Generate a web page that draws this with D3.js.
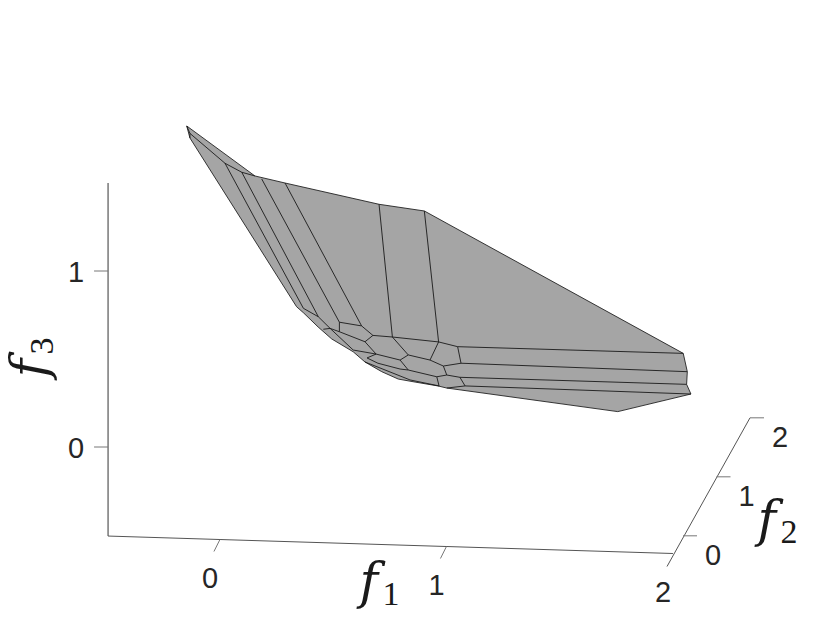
<!DOCTYPE html>
<html><head><meta charset="utf-8">
<style>html,body{margin:0;padding:0;background:#fff}svg{display:block}</style>
<script src="https://cdn.jsdelivr.net/npm/d3@7/dist/d3.min.js"></script>
</head><body><script>
// Axis tick values
const f1Ticks=[0,1,2], f2Ticks=[0,1,2], f3Ticks=[0,1];
const f1Range=[-0.494,2], f2Range=[-0.3,2], f3Range=[-0.506,1.5];
// Surface, in projected (f1,f3) units on the f2=0 plane
const outlineF1=[-0.191,0.110,0.243,0.658,0.858,2.001,2.019,2.016,2.035,1.712,0.957,0.918,0.817,0.743,0.670,0.596,0.544,0.449,0.389,0.324,0.294,-0.177];
const outlineF3=[1.824,1.540,1.500,1.379,1.341,0.532,0.428,0.356,0.301,0.201,0.335,0.347,0.369,0.386,0.428,0.483,0.541,0.614,0.682,0.763,0.797,1.756];
const meshLines=[
 [[-0.191,1.824],[-0.177,1.782],[-0.022,1.612],[0.052,1.561],[0.110,1.540]],
 [[-0.177,1.782],[-0.177,1.756]],
 [[-0.022,1.612],[0.324,0.788]],
 [[0.052,1.561],[0.390,0.740]],
 [[0.140,1.523],[0.483,0.709]],
 [[0.243,1.500],[0.581,0.688]],
 [[0.658,1.379],[0.717,0.625]],
 [[0.858,1.341],[0.921,0.597]],
 [[0.324,0.788],[0.390,0.740],[0.442,0.674],[0.412,0.669]],
 [[0.442,0.674],[0.483,0.655],[0.596,0.598],[0.631,0.634],[0.717,0.625],[0.921,0.597],[1.005,0.570],[2.001,0.532]],
 [[0.483,0.709],[0.581,0.688],[0.631,0.634]],
 [[0.483,0.709],[0.483,0.655]],
 [[0.442,0.674],[0.544,0.551],[0.645,0.528],[0.596,0.598]],
 [[0.645,0.528],[0.751,0.494],[0.787,0.523],[0.717,0.625]],
 [[0.787,0.523],[0.883,0.494],[0.921,0.597]],
 [[0.883,0.494],[0.942,0.460],[1.020,0.476],[2.019,0.428]],
 [[1.005,0.570],[1.020,0.476]],
 [[0.942,0.460],[0.957,0.409],[0.913,0.399],[0.787,0.4375],[0.751,0.494]],
 [[0.957,0.409],[1.015,0.396],[2.016,0.356]],
 [[1.015,0.396],[1.038,0.347]],
 [[0.913,0.399],[0.923,0.347]],
 [[0.957,0.335],[1.038,0.347],[2.035,0.301]],
 [[0.645,0.528],[0.605,0.506]],
 [[0.605,0.506],[0.653,0.476],[0.751,0.443],[0.787,0.4375]],
 [[0.596,0.483],[0.795,0.381],[0.923,0.347]]
];
const W=830,H=623;
const f1X=d3.scaleLinear().domain([0,1]).range([230,456.5]);
const f1Y=d3.scaleLinear().domain([0,1]).range([0,7]);
const f2X=d3.scaleLinear().domain([0,1]).range([0,33.5]);
const f2Y=d3.scaleLinear().domain([0,1]).range([0,-59]);
const f3Y=d3.scaleLinear().domain([0,1]).range([447,271]);
const project=(a,b,c)=>[f1X(a)+f2X(b), f3Y(c)+f1Y(a)-f1Y(f1Range[0])+f2Y(b)-f2Y(f2Range[0])];
const planeX=f1X, planeY=f3Y;
const svg=d3.select("body").append("svg").attr("width",W).attr("height",H).attr("viewBox",`0 0 ${W} ${H}`);
const line=d3.line().x(d=>planeX(d[0])).y(d=>planeY(d[1]));
const textCol="#262626";
const [u0,v0,w0]=[f1Range[0],f2Range[0],f3Range[0]];

// surface
svg.append("path").datum(d3.zip(outlineF1,outlineF3)).attr("d",d=>line(d)+"Z")
 .attr("fill","#a5a5a5").attr("stroke","#222").attr("stroke-width",0.9).attr("stroke-linejoin","round");
svg.append("g").selectAll("path").data(meshLines).join("path").attr("d",line)
 .attr("fill","none").attr("stroke","#1a1a1a").attr("stroke-width",0.9);

// axes
const ax=svg.append("g").attr("fill","none");
const seg=(p,q,col)=>ax.append("line").attr("x1",p[0]).attr("y1",p[1]).attr("x2",q[0]).attr("y2",q[1]).attr("stroke",col).attr("stroke-width",1);
seg(project(u0,v0,w0),project(u0,v0,f3Range[1]),"#333");
seg(project(u0,v0,w0),project(f1Range[1],v0,w0),"#555");
seg([667,566.5],project(f1Range[1],f2Range[1],w0),"#555");
const labels=svg.append("g").attr("font-family","'Liberation Sans',Arial,sans-serif").attr("font-size",29).attr("fill",textCol).attr("text-anchor","middle");
f3Ticks.forEach(t=>{const p=project(u0,v0,t);seg(p,[p[0]-14,p[1]],"#777");
 labels.append("text").attr("x",p[0]-32).attr("y",p[1]+11).text(t);});
f1Ticks.forEach(t=>{const p=project(t,v0,w0);
 if(t<2)seg(p,[p[0]-6,p[1]+12],"#777");
 labels.append("text").attr("x",p[0]-10).attr("y",p[1]+48).text(t);});
f2Ticks.forEach(t=>{const p=project(f1Range[1],t,w0);seg(p,[p[0]+14,p[1]],"#777");
 labels.append("text").attr("x",p[0]+30).attr("y",p[1]+29).text(t);});

// axis titles
function mathLabel(x,y,sub,rot){
 const g=svg.append("g").attr("transform",`translate(${x},${y}) rotate(${rot})`).attr("fill","#1a1a1a");
 g.append("text").attr("font-family","'DejaVu Math TeX Gyre','DejaVu Serif','Liberation Serif',serif").attr("font-size",50).attr("text-anchor","middle").text("\u{1D453}");
 g.append("text").attr("x",20).attr("y",7).attr("font-family","'Liberation Serif',serif").attr("font-size",34).attr("text-anchor","middle").text(sub);
}
mathLabel(371,598,"1",0);
mathLabel(769,536,"2",0);
mathLabel(46,366,"3",-90);
</script></body></html>
